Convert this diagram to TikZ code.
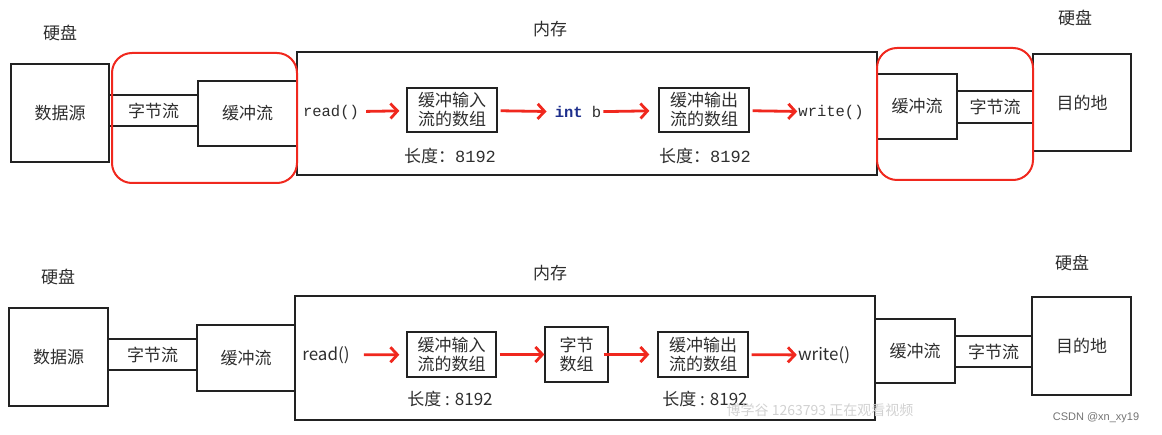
\documentclass[tikz,border=0pt]{standalone}
\usepackage{fontspec}
\setmainfont{Noto Sans CJK SC}
\setmonofont{Liberation Mono}
\newfontfamily\wmfont{Liberation Sans}
\usetikzlibrary{positioning,arrows.meta}
\definecolor{ink}{HTML}{2E2E2E}
\definecolor{edge}{HTML}{222222}
\definecolor{flowred}{HTML}{F0281E}
\definecolor{kwblue}{HTML}{1E2F8C}

\begin{document}
\begin{tikzpicture}[x=1pt,y=-1pt,font=\fontsize{17}{19}\selectfont,text=ink,
  box/.style={draw=edge,line width=1.3pt,minimum width=#1,inner sep=0pt,align=center},
  lbl/.style={inner sep=1pt},
  code/.style={inner sep=1pt,font=\fontsize{15.5}{18}\ttfamily},
  flow/.style={draw=flowred,line width=2.8pt,-{Straight Barb[length=7pt,width=15pt]}},
  redframe/.style={draw=flowred,line width=2pt,rounded corners=20pt}]
  \useasboundingbox (0,0) rectangle (1162,435);

  % ---- top: byte stream wrapped by buffered stream
  \node[lbl] (hdA) at (60,33) {硬盘};
  \node[box=98pt,minimum height=98pt] (srcA) at (60,113) {数据源};
  \node[box=89pt,minimum height=31pt] (byteA) at (153.5,110.5) {字节流};
  \node[box=99pt,minimum height=65pt] (bufA) at (247.5,113.5) {缓冲流};
  \node[box=580pt,minimum height=123pt] (memA) at (587,113.5) {};
  \node[lbl] (memlblA) at (550,29) {内存};
  \node[code] (readA) at (331,112) {read()};
  \node[box=90pt,minimum height=44pt] (inA) at (452,110) {缓冲输入\\流的数组};
  \node[lbl] (inlenA) at (450,156) {长度：\texttt{8192}};
  \node[code] (intA) at (578,112) {\textcolor{kwblue}{\bfseries int} b};
  \node[box=90pt,minimum height=44pt] (outA) at (704,110) {缓冲输出\\流的数组};
  \node[lbl] (outlenA) at (705,156) {长度：\texttt{8192}};
  \node[code] (writeA) at (831,112) {write()};
  \node[box=80pt,minimum height=65pt] (obufA) at (917,106.5) {缓冲流};
  \node[box=76pt,minimum height=32pt] (obyteA) at (995,107) {字节流};
  \node[box=98pt,minimum height=97pt] (dstA) at (1082,102.5) {目的地};
  \node[lbl] (hdB) at (1075,18) {硬盘};
  \draw[flow,shorten <=6pt,shorten >=7pt] (readA) -- (inA);
  \draw[flow,shorten <=3pt,shorten >=7pt] (inA) -- (intA);
  \draw[flow,shorten <=1pt,shorten >=9pt] (intA) -- (outA);
  \draw[flow,shorten <=3pt,shorten >=0pt] (outA) -- (writeA);
  % highlight
  \draw[redframe] (112,53) rectangle (297,183);
  \draw[redframe] (877,48) rectangle (1033,180);

  % ---- bottom: byte array in between
  \node[lbl] (hdC) at (58,277) {硬盘};
  \node[box=99pt,minimum height=98pt] (srcC) at (58.5,357) {数据源};
  \node[box=89pt,minimum height=31pt] (byteC) at (152.5,354.5) {字节流};
  \node[box=98pt,minimum height=66pt] (bufC) at (246,358) {缓冲流};
  \node[box=580pt,minimum height=124pt] (memC) at (585,358) {};
  \node[lbl] (memlblC) at (550,273) {内存};
  \node[lbl] (readC) at (326,355) {read()};
  \node[box=89pt,minimum height=45pt] (inC) at (451.5,354.5) {缓冲输入\\流的数组};
  \node[lbl] (inlenC) at (450,399) {长度 : 8192};
  \node[box=63pt,minimum height=55pt] (arrC) at (576.5,354.5) {字节\\数组};
  \node[box=90pt,minimum height=45pt] (outC) at (703,354.5) {缓冲输出\\流的数组};
  \node[lbl] (outlenC) at (705,399) {长度 : 8192};
  \node[lbl] (writeC) at (824,355) {write()};
  \node[box=80pt,minimum height=64pt] (obufC) at (915,351) {缓冲流};
  \node[box=77pt,minimum height=31pt] (obyteC) at (993.5,351.5) {字节流};
  \node[box=99pt,minimum height=98pt] (dstC) at (1081.5,346) {目的地};
  \node[lbl] (hdD) at (1072,263) {硬盘};
  \draw[flow,shorten <=13pt,shorten >=7pt] (readC) -- (inC);
  \draw[flow,shorten <=3pt,shorten >=0pt] (inC) -- (arrC);
  \draw[flow,shorten <=-5pt,shorten >=8pt] (arrC) -- (outC);
  \draw[flow,shorten <=3pt,shorten >=0pt] (outC) -- (writeC);

  % watermarks
  \node[lbl,text=black!18,font=\fontsize{14}{16}\selectfont] (wmark) at (820,410) {博学谷 1263793 正在观看视频};
  \node[lbl,text=black!55,font=\fontsize{11}{13}\wmfont] (csdn) at (1096,418) {CSDN @xn\_xy19};
\end{tikzpicture}
\end{document}
